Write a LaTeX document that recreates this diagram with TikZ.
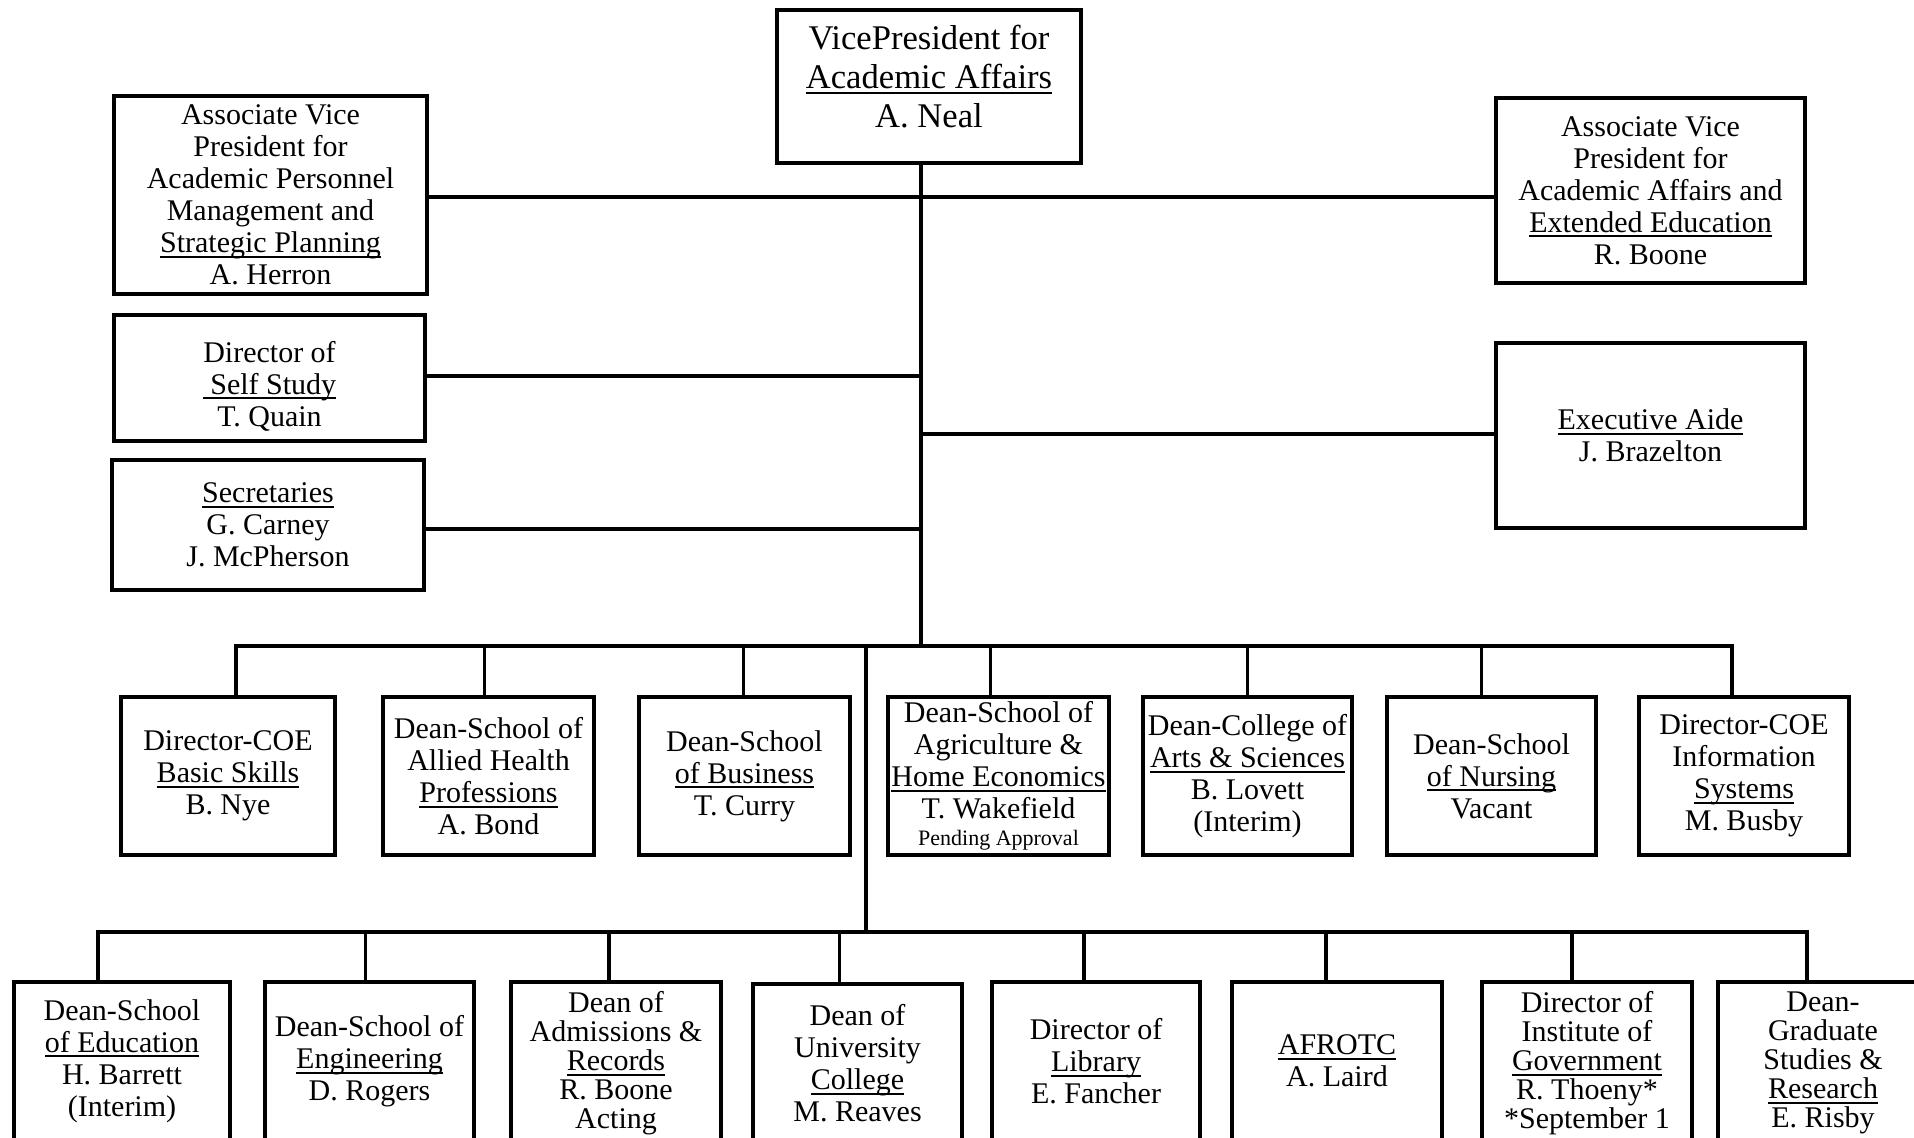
\documentclass[tikz,border=0pt]{standalone}
\usepackage{fontspec}
\setmainfont{Liberation Serif}
\newcommand{\myul}[1]{\setbox0\hbox{#1}\rlap{\rule[-2.6pt]{\wd0}{1pt}}\box0}
\begin{document}
\begin{tikzpicture}[x=0.5pt,y=-0.5pt,
  box/.style={draw, line width=1.7pt, inner sep=0pt, align=center,
    font=\fontsize{15}{16}\selectfont},
  txt/.style={inner sep=0pt, align=center, font=\fontsize{15}{16}\selectfont},
  wire/.style={line width=1.6pt},
  row/.style={box, minimum height=79pt},
  tallrow/.style={box, minimum height=81pt, font=\fontsize{15}{14.5}\selectfont}]
\useasboundingbox (0,0) rectangle (1914,1138);
\fill[white] (0,0) rectangle (1914,1138);

% top box
\node[box, minimum width=152pt, minimum height=76.5pt] (vp) at (929,86.5) {};
\node[txt, font=\fontsize{17.3}{19.5}\selectfont] (vpt) at (929,76.5)
  {VicePresident for\\\myul{Academic Affairs}\\A. Neal};

% left staff boxes
\node[box, minimum width=156.5pt, minimum height=99pt] (herron) at (270.5,195)
  {Associate Vice\\President for\\Academic Personnel\\Management and\\\myul{Strategic Planning}\\A. Herron};
\node[box, minimum width=155.5pt, minimum height=63pt] (self) at (269.5,378) {};
\node[txt] (selft) at (269.5,386)
  {Director of\\\myul{\ Self Study}\\T. Quain};
\node[box, minimum width=156pt, minimum height=65pt] (secr) at (268,525)
  {\myul{Secretaries}\\G. Carney\\J. McPherson};

% right staff boxes
\node[box, minimum width=154.5pt, minimum height=92.5pt] (boone) at (1650.5,190.5)
  {Associate Vice\\President for\\Academic Affairs and\\\myul{Extended Education}\\R. Boone};
\node[box, minimum width=154.5pt, minimum height=92.5pt] (exec) at (1650.5,435.5)
  {\myul{Executive Aide}\\J. Brazelton};

% first row
\node[row, minimum width=107pt] (b1) at (228,776)
  {Director-COE\\\myul{Basic Skills}\\B. Nye};
\node[row, minimum width=105.5pt] (b2) at (488.5,776)
  {Dean-School of\\Allied Health\\\myul{Professions}\\A. Bond};
\node[row, minimum width=105.5pt] (b3) at (744.5,776)
  {Dean-School\\\myul{of Business}\\T. Curry};
\node[row, minimum width=110.5pt] (b4) at (998.5,776)
  {Dean-School of\\Agriculture \&\\\myul{Home Economics}\\T. Wakefield\\[-2.5pt]{\fontsize{11}{12}\selectfont Pending Approval}};
\node[row, minimum width=104.5pt] (b5) at (1247.5,776)
  {Dean-College of\\\myul{Arts \& Sciences}\\B. Lovett\\(Interim)};
\node[row, minimum width=104.5pt] (b6) at (1491.5,776)
  {Dean-School\\\myul{of Nursing}\\Vacant};
\node[row, minimum width=105pt] (b7) at (1744,776)
  {Director-COE\\Information\\\myul{Systems}\\M. Busby};

% second row
\node[row, minimum width=108pt] (c1) at (122,1061)
  {Dean-School\\\myul{of Education}\\H. Barrett\\(Interim)};
\node[row, minimum width=104.5pt] (c2) at (369.5,1061)
  {Dean-School of\\\myul{Engineering}\\D. Rogers};
\node[tallrow, minimum width=105pt] (c3) at (616,1063)
  {Dean of\\Admissions \&\\\myul{Records}\\R. Boone\\Acting};
\node[row, minimum width=104.5pt] (c4) at (857.5,1063)
  {Dean of\\University\\\myul{College}\\M. Reaves};
\node[row, minimum width=104pt] (c5) at (1096,1061)
  {Director of\\\myul{Library}\\E. Fancher};
\node[row, minimum width=105pt] (c6) at (1337,1061)
  {\myul{AFROTC}\\A. Laird};
\node[tallrow, minimum width=105pt] (c7) at (1587,1063)
  {Director of\\Institute of\\\myul{Government}\\R. Thoeny*\\*September 1};
\node[tallrow, minimum width=105pt] (c8) at (1823,1063)
  {Dean-\\Graduate\\Studies \&\\\myul{Research}\\E. Risby};

% junctions
\coordinate (hub) at (921,646);
\coordinate (split) at (866,646);
\coordinate (lowbus) at (866,932);

% trunk and staff lines
\draw[wire] (vp.south -| hub) -- (hub);
\draw[wire] (herron.east |- 0,197) -- (boone.west |- 0,197);
\draw[wire] (self.east |- 0,376) -- (hub |- 0,376);
\draw[wire] (secr.east |- 0,529) -- (hub |- 0,529);
\draw[wire] (exec.west |- 0,434) -- (hub |- 0,434);
\draw[wire] (split) -- (lowbus);

% first row bus
\draw[wire] ([xshift=4pt]b1.north) -- ([xshift=4pt]b1.north |- hub)
  -- ([xshift=-6pt]b7.north |- hub) -- ([xshift=-6pt]b7.north);
\draw[wire] ([xshift=-2pt]b2.north) -- ([xshift=-2pt]b2.north |- hub);
\draw[wire] ([xshift=-0.5pt]b3.north) -- ([xshift=-0.5pt]b3.north |- hub);
\draw[wire] ([xshift=-4pt]b4.north) -- ([xshift=-4pt]b4.north |- hub);
\draw[wire] (b5.north) -- (b5.north |- hub);
\draw[wire] ([xshift=-5pt]b6.north) -- ([xshift=-5pt]b6.north |- hub);

% second row bus
\draw[wire] ([xshift=-12pt]c1.north) -- ([xshift=-12pt]c1.north |- lowbus)
  -- ([xshift=-8pt]c8.north |- lowbus) -- ([xshift=-8pt]c8.north);
\draw[wire] ([xshift=-2pt]c2.north) -- ([xshift=-2pt]c2.north |- lowbus);
\draw[wire] ([xshift=-3.5pt]c3.north) -- ([xshift=-3.5pt]c3.north |- lowbus);
\draw[wire] ([xshift=-9pt]c4.north) -- ([xshift=-9pt]c4.north |- lowbus);
\draw[wire] ([xshift=-6pt]c5.north) -- ([xshift=-6pt]c5.north |- lowbus);
\draw[wire] ([xshift=-5.5pt]c6.north) -- ([xshift=-5.5pt]c6.north |- lowbus);
\draw[wire] ([xshift=-7.5pt]c7.north) -- ([xshift=-7.5pt]c7.north |- lowbus);
\end{tikzpicture}
\end{document}
